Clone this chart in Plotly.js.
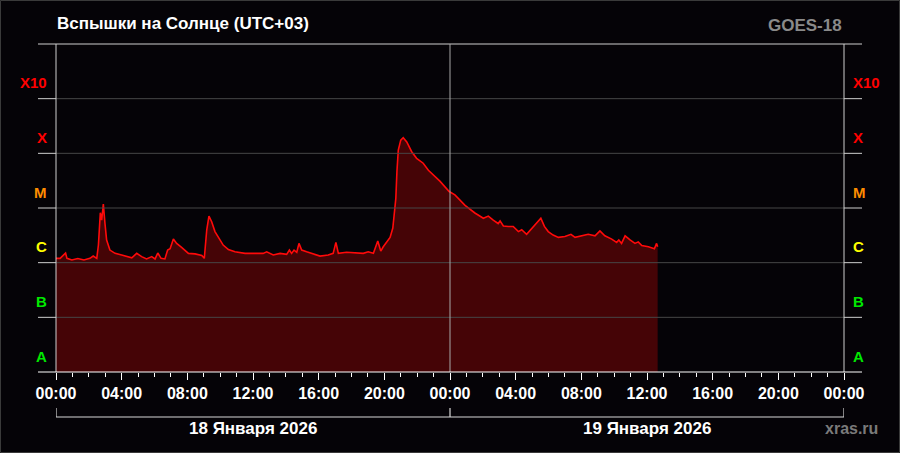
<!DOCTYPE html>
<html><head><meta charset="utf-8">
<script src="https://cdn.plot.ly/plotly-3.0.1.min.js"></script>
<style>html,body{margin:0;padding:0;background:#050307;}#chart{width:900px;height:453px;}</style>
</head><body><div id="chart"></div>
<script>
// ---- data (GOES-18 X-ray flux, W/m^2, UTC+03) ----
const times = [
'2026-01-18 00:00','2026-01-18 00:03','2026-01-18 00:15','2026-01-18 00:35','2026-01-18 00:40','2026-01-18 00:58',
'2026-01-18 01:20','2026-01-18 01:42','2026-01-18 02:04','2026-01-18 02:16','2026-01-18 02:29','2026-01-18 02:35',
'2026-01-18 02:42','2026-01-18 02:47','2026-01-18 02:53','2026-01-18 02:59','2026-01-18 03:05','2026-01-18 03:17',
'2026-01-18 03:36','2026-01-18 04:00','2026-01-18 04:18','2026-01-18 04:37','2026-01-18 04:55','2026-01-18 05:13',
'2026-01-18 05:31','2026-01-18 05:50','2026-01-18 06:02','2026-01-18 06:12','2026-01-18 06:24','2026-01-18 06:38',
'2026-01-18 06:48','2026-01-18 06:57','2026-01-18 07:09','2026-01-18 07:21','2026-01-18 07:39','2026-01-18 08:04',
'2026-01-18 08:28','2026-01-18 08:53','2026-01-18 09:02','2026-01-18 09:11','2026-01-18 09:19','2026-01-18 09:29',
'2026-01-18 09:41','2026-01-18 09:59','2026-01-18 10:11','2026-01-18 10:30','2026-01-18 10:54','2026-01-18 11:31',
'2026-01-18 12:07','2026-01-18 12:37','2026-01-18 12:50','2026-01-18 13:14','2026-01-18 13:39','2026-01-18 14:03',
'2026-01-18 14:13','2026-01-18 14:21','2026-01-18 14:30','2026-01-18 14:40','2026-01-18 14:48','2026-01-18 14:58',
'2026-01-18 15:16','2026-01-18 15:40','2026-01-18 16:05','2026-01-18 16:35','2026-01-18 16:53','2026-01-18 17:03',
'2026-01-18 17:12','2026-01-18 17:42','2026-01-18 18:19','2026-01-18 18:43','2026-01-18 19:01','2026-01-18 19:20',
'2026-01-18 19:36','2026-01-18 19:47','2026-01-18 19:56','2026-01-18 20:09','2026-01-18 20:21','2026-01-18 20:31',
'2026-01-18 20:36','2026-01-18 20:42','2026-01-18 20:46','2026-01-18 20:51','2026-01-18 21:00','2026-01-18 21:09',
'2026-01-18 21:22','2026-01-18 21:40','2026-01-18 21:58','2026-01-18 22:22','2026-01-18 22:41','2026-01-18 22:59',
'2026-01-18 23:23','2026-01-18 23:57',
'2026-01-19 00:18','2026-01-19 00:55','2026-01-19 01:31','2026-01-19 02:02','2026-01-19 02:20','2026-01-19 02:38',
'2026-01-19 02:56','2026-01-19 03:03','2026-01-19 03:15','2026-01-19 03:33','2026-01-19 03:51','2026-01-19 04:10',
'2026-01-19 04:22','2026-01-19 04:40','2026-01-19 05:04','2026-01-19 05:20','2026-01-19 05:32','2026-01-19 05:45',
'2026-01-19 05:59','2026-01-19 06:17','2026-01-19 06:36','2026-01-19 07:00','2026-01-19 07:22','2026-01-19 07:37',
'2026-01-19 08:01','2026-01-19 08:25','2026-01-19 08:50','2026-01-19 09:08','2026-01-19 09:26','2026-01-19 09:51',
'2026-01-19 10:09','2026-01-19 10:17','2026-01-19 10:27','2026-01-19 10:40','2026-01-19 10:58','2026-01-19 11:16',
'2026-01-19 11:28','2026-01-19 11:41','2026-01-19 12:05','2026-01-19 12:27','2026-01-19 12:35','2026-01-19 12:39'
];
const flux = [
1.2e-6,1.2e-6,1.2e-6,1.5e-6,1.2e-6,1.12e-6,
1.19e-6,1.12e-6,1.2e-6,1.32e-6,1.2e-6,2.1e-6,
8.2e-6,6.0e-6,1.18e-5,5.2e-6,2.6e-6,1.7e-6,
1.48e-6,1.38e-6,1.29e-6,1.23e-6,1.48e-6,1.29e-6,
1.17e-6,1.29e-6,1.17e-6,1.5e-6,1.2e-6,1.17e-6,
1.7e-6,1.8e-6,2.7e-6,2.25e-6,1.9e-6,1.48e-6,
1.45e-6,1.36e-6,1.2e-6,4.0e-6,7.1e-6,5.6e-6,
3.7e-6,2.7e-6,2.1e-6,1.74e-6,1.58e-6,1.48e-6,
1.48e-6,1.48e-6,1.58e-6,1.38e-6,1.48e-6,1.42e-6,
1.7e-6,1.48e-6,1.7e-6,1.55e-6,2.25e-6,1.7e-6,
1.58e-6,1.45e-6,1.32e-6,1.38e-6,1.48e-6,2.35e-6,
1.48e-6,1.55e-6,1.48e-6,1.48e-6,1.58e-6,1.48e-6,
2.5e-6,1.63e-6,1.95e-6,2.4e-6,2.9e-6,4.3e-6,
7.4e-6,1.5e-5,4.6e-5,1.15e-4,1.74e-4,1.93e-4,
1.62e-4,1.07e-4,8.1e-5,6.6e-5,4.9e-5,4.0e-5,
3.1e-5,2.0e-5,
1.74e-5,1.12e-5,8.1e-6,6.5e-6,7.1e-6,6.0e-6,
5.2e-6,5.8e-6,4.7e-6,4.6e-6,4.6e-6,3.7e-6,
4.0e-6,3.3e-6,4.5e-6,5.6e-6,6.5e-6,4.6e-6,
3.7e-6,3.2e-6,2.9e-6,3.0e-6,3.3e-6,2.9e-6,
3.1e-6,3.3e-6,3.1e-6,3.8e-6,3.1e-6,2.7e-6,
2.35e-6,2.6e-6,2.25e-6,3.1e-6,2.6e-6,2.25e-6,
2.4e-6,2.05e-6,1.95e-6,1.8e-6,2.25e-6,1.95e-6
];
const xTickVals = ['2026-01-18 00:00','2026-01-18 04:00','2026-01-18 08:00','2026-01-18 12:00','2026-01-18 16:00','2026-01-18 20:00',
  '2026-01-19 00:00','2026-01-19 04:00','2026-01-19 08:00','2026-01-19 12:00','2026-01-19 16:00','2026-01-19 20:00','2026-01-20 00:00'];
const xTickText = ['00:00','04:00','08:00','12:00','16:00','20:00','00:00','04:00','08:00','12:00','16:00','20:00','00:00'];
const classLabels = ['A','B','C','M','X','X10'];
const classLow = [1e-8,1e-7,1e-6,1e-5,1e-4,1e-3];
const classColors = ['#00e800','#00e800','#ffff00','#ff8c00','#ff0000','#ff0000'];
const dayCenters = ['2026-01-18 12:00','2026-01-19 12:00'];
const dayLabels = ['18 Января 2026','19 Января 2026'];
const dayEdges = ['2026-01-18 00:00','2026-01-19 00:00','2026-01-20 00:00'];

// ---- layout helpers ----
const W = 900, H = 453, L = 56, R = 56, T = 44, B = 81;
const pw = W - L - R, ph = H - T - B;
const px = x => (x - L) / pw;          // pixel x -> paper x
const py = y => (H - B - y) / ph;      // pixel y -> paper y
const FONT = 'Liberation Sans, Arial, sans-serif';

const shapes = [];
for (let k = 1; k < 6; k++) {
  shapes.push({type:'line', xref:'paper', yref:'paper', x0:0, x1:1, y0:k/6, y1:k/6, line:{color:'#464646', width:1}});
  shapes.push({type:'line', xref:'paper', yref:'paper', x0:px(38), x1:0, y0:k/6, y1:k/6, line:{color:'#cfcfcf', width:1}});
  shapes.push({type:'line', xref:'paper', yref:'paper', x0:1, x1:px(862), y0:k/6, y1:k/6, line:{color:'#cfcfcf', width:1}});
}
shapes.push({type:'line', xref:'paper', yref:'paper', x0:px(38), x1:px(862), y0:1, y1:1, line:{color:'#cfcfcf', width:1}});
shapes.push({type:'line', xref:'paper', yref:'paper', x0:0, x1:0, y0:0, y1:1, line:{color:'#cfcfcf', width:1}});
shapes.push({type:'line', xref:'paper', yref:'paper', x0:1, x1:1, y0:0, y1:1, line:{color:'#cfcfcf', width:1}});
shapes.push({type:'line', xref:'x', yref:'paper', x0:dayEdges[1], x1:dayEdges[1], y0:0, y1:1, line:{color:'#a8a8a8', width:1}});
shapes.push({type:'line', xref:'paper', yref:'paper', x0:px(38), x1:px(862), y0:0, y1:0, line:{color:'#ffffff', width:1.2}});
shapes.push({type:'line', xref:'x', yref:'paper', x0:dayEdges[0], x1:dayEdges[2], y0:py(417), y1:py(417), line:{color:'#d8d8d8', width:1.2}});
dayEdges.forEach(d => shapes.push({type:'line', xref:'x', yref:'paper', x0:d, x1:d, y0:py(408), y1:py(417), line:{color:'#d8d8d8', width:1.2}}));
shapes.push({type:'rect', xref:'paper', yref:'paper', x0:px(0.5), x1:px(899.5), y0:py(0.5), y1:py(452.5), line:{color:'#3a3a3a', width:1}});

const annotations = [];
classLabels.forEach((lab, i) => {
  const yy = Math.log10(classLow[i]) + 0.29;
  const f = {family:FONT, size:15, color:classColors[i], weight:'bold'};
  annotations.push({text:lab, xref:'paper', yref:'y', x:px(49), y:yy, xanchor:'right', yanchor:'middle', showarrow:false, font:f});
  annotations.push({text:lab, xref:'paper', yref:'y', x:px(851), y:yy, xanchor:'left', yanchor:'middle', showarrow:false, font:f});
});
dayLabels.forEach((lab, i) => {
  annotations.push({text:lab, xref:'x', yref:'paper', x:dayCenters[i], y:py(428), xanchor:'center', yanchor:'middle', showarrow:false,
    font:{family:FONT, size:17, color:'#ffffff', weight:'bold'}});
});
annotations.push({text:'Вспышки на Солнце (UTC+03)', xref:'paper', yref:'paper', x:px(55), y:py(24), xanchor:'left', yanchor:'middle', showarrow:false,
  font:{family:FONT, size:17, color:'#ffffff', weight:'bold'}});
annotations.push({text:'GOES-18', xref:'paper', yref:'paper', x:px(844), y:py(25), xanchor:'right', yanchor:'middle', showarrow:false,
  font:{family:FONT, size:17, color:'#8a8a8a', weight:'bold'}});
annotations.push({text:'xras.ru', xref:'paper', yref:'paper', x:px(880), y:py(428), xanchor:'right', yanchor:'middle', showarrow:false,
  font:{family:FONT, size:16, color:'#7a7a7a', weight:'bold'}});

const trace = {
  x: times, y: flux, type:'scatter', mode:'lines',
  line:{color:'#ff0a0a', width:1.6, shape:'linear'},
  fill:'tozeroy', fillcolor:'#450406', hoverinfo:'skip'
};

const layout = {
  width:W, height:H,
  margin:{l:L, r:R, t:T, b:B, pad:0},
  paper_bgcolor:'#050307', plot_bgcolor:'#050307',
  showlegend:false,
  xaxis:{
    type:'date', range:[dayEdges[0], dayEdges[2]],
    tickmode:'array', tickvals:xTickVals, ticktext:xTickText,
    ticks:'outside', ticklen:7, tickwidth:1, tickcolor:'#ffffff',
    minor:{tickmode:'linear', tick0:'2026-01-18 00:00', dtick:3600000, ticks:'outside', ticklen:4, tickwidth:1, tickcolor:'#ffffff', showgrid:false},
    showgrid:false, zeroline:false, showline:false,
    tickfont:{family:FONT, size:16, color:'#ffffff', weight:'bold'},
    ticklabelstandoff:0, fixedrange:true
  },
  yaxis:{
    type:'log', range:[-8, -2],
    showgrid:false, zeroline:false, showline:false, showticklabels:false, ticks:'', fixedrange:true
  },
  shapes: shapes,
  annotations: annotations
};

Plotly.newPlot('chart', [trace], layout, {staticPlot:true, displayModeBar:false});
</script>
</body></html>
